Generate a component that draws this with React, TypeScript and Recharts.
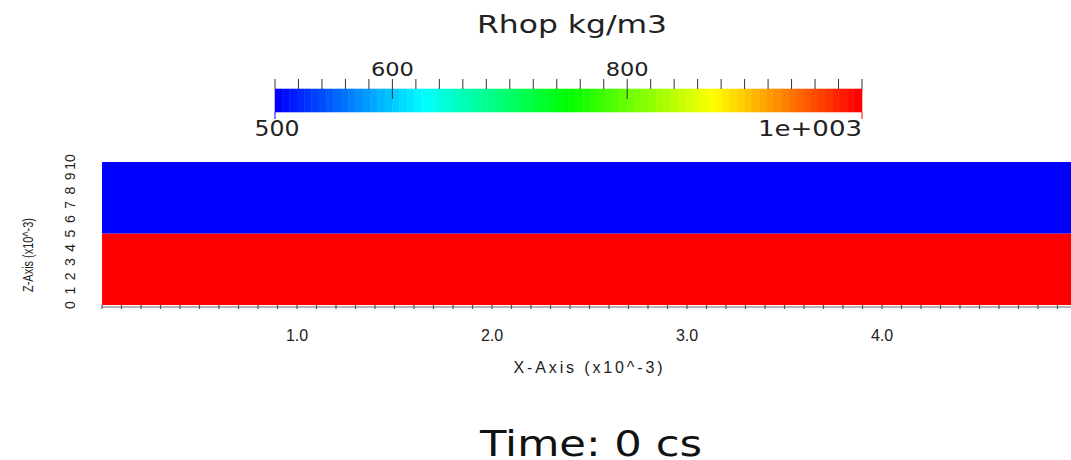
import React from 'react';
import { ComposedChart, XAxis, YAxis, Area, ReferenceArea, Label } from 'recharts';

// Density field: two horizontal layers (z in 1e-3 m, rho in kg/m3)
const LAYER_Z_FROM = [0, 5];
const LAYER_Z_TO = [5, 10];
const LAYER_RHO = [1000, 500];

// Domain of the slice (x10^-3)
const X_DOMAIN: [number, number] = [0, 5];
const Z_DOMAIN: [number, number] = [0, 10];
const X_LABELED = [1, 2, 3, 4];
const X_MINOR_STEP = 0.1;
const Z_TICKS = [0, 1, 2, 3, 4, 5, 6, 7, 8, 9, 10];

// Colour legend
const RHO_RANGE: [number, number] = [500, 1000];
const RHO_TICKS = [500, 520, 540, 560, 580, 600, 620, 640, 660, 680, 700, 720, 740, 760, 780, 800, 820, 840, 860, 880, 900, 920, 940, 960, 980, 1000];
const RHO_LABELED = [600, 800];
const RHO_END_LABELS = [500, 1000];
const COLOR_STEPS = 80;

const X_TICKS = Array.from(
  { length: Math.round((X_DOMAIN[1] - X_DOMAIN[0]) / X_MINOR_STEP) + 1 },
  (_, i) => +(X_DOMAIN[0] + i * X_MINOR_STEP).toFixed(1)
);

// Rainbow lookup table: blue -> cyan -> green -> yellow -> red
function rhoColor(v: number): string {
  const t = Math.min(1, Math.max(0, (v - RHO_RANGE[0]) / (RHO_RANGE[1] - RHO_RANGE[0])));
  const hue = 240 * (1 - t);
  return `hsl(${hue.toFixed(2)}, 100%, 50%)`;
}

const BAND_WIDTH = (RHO_RANGE[1] - RHO_RANGE[0]) / COLOR_STEPS;
const BANDS = Array.from({ length: COLOR_STEPS }, (_, i) => ({
  from: RHO_RANGE[0] + i * BAND_WIDTH,
  to: RHO_RANGE[0] + (i + 1) * BAND_WIDTH,
  color: rhoColor(RHO_RANGE[0] + (i / (COLOR_STEPS - 1)) * (RHO_RANGE[1] - RHO_RANGE[0])),
}));

// One row per domain edge; each layer is stacked by its thickness
const SLICE_ROWS = X_DOMAIN.map((x) => {
  const row: Record<string, number> = { x };
  LAYER_RHO.forEach((_, i) => {
    row[`layer${i}`] = LAYER_Z_TO[i] - LAYER_Z_FROM[i];
  });
  return row;
});

const SANS = '"Liberation Sans", Arial, sans-serif';
const WIDE = '"DejaVu Sans", sans-serif';

function fmtRho(v: number): string {
  if (v >= 1000) {
    const e = Math.floor(Math.log10(v));
    const m = v / Math.pow(10, e);
    return `${m}e+${String(e).padStart(3, '0')}`;
  }
  return String(v);
}

const XTick = (props: any) => {
  const { x, y, payload } = props;
  const v = payload.value as number;
  const labeled = X_LABELED.some((m) => Math.abs(m - v) < 1e-6);
  return (
    <g>
      <line x1={x} x2={x} y1={y} y2={y + 4} stroke="#555" strokeWidth={1.2} />
      {labeled && (
        <text x={x} y={y + 36} textAnchor="middle" fontSize={16} fill="#222" fontFamily={SANS}>
          {v.toFixed(1)}
        </text>
      )}
    </g>
  );
};

const ZTick = (props: any) => {
  const { x, y, payload } = props;
  const tx = x - 32;
  return (
    <text
      x={tx}
      y={y}
      transform={`rotate(-90 ${tx} ${y})`}
      textAnchor="middle"
      dominantBaseline="central"
      fontSize={14}
      fill="#222"
      fontFamily={SANS}
    >
      {payload.value}
    </text>
  );
};

const RhoTopTick = (props: any) => {
  const { x, y, payload } = props;
  const v = payload.value as number;
  const labeled = RHO_LABELED.includes(v);
  return (
    <g>
      <line x1={x} x2={x} y1={y - 10} y2={labeled ? y + 10 : y} stroke="#333" strokeWidth={1} />
      {labeled && (
        <text x={x} y={y - 13} textAnchor="middle" fontSize={20} fill="#222" fontFamily={WIDE} textLength={43} lengthAdjust="spacingAndGlyphs">
          {fmtRho(v)}
        </text>
      )}
    </g>
  );
};

const RhoBottomTick = (props: any) => {
  const { x, y, payload } = props;
  const v = payload.value as number;
  const isMax = v >= RHO_RANGE[1];
  const label = fmtRho(v);
  return (
    <g>
      <line x1={x} x2={x} y1={y} y2={y + 7} stroke={rhoColor(v)} strokeWidth={1} />
      <text
        x={isMax ? x : x + 2}
        y={y + 24}
        textAnchor={isMax ? 'end' : 'middle'}
        fontSize={22}
        fill="#222"
        fontFamily={WIDE}
        textLength={isMax ? 104 : 45}
        lengthAdjust="spacingAndGlyphs"
      >
        {label}
      </text>
    </g>
  );
};

export default function App() {
  return (
    <div style={{ position: 'absolute', left: 0, top: 0, width: 1071, height: 460, overflow: 'hidden', background: '#fff' }}>
      {/* colour legend */}
      <div style={{ position: 'absolute', left: 0, top: 0 }}>
        <ComposedChart width={1071} height={145} data={BANDS} margin={{ top: 59, right: 209, left: 275, bottom: 3 }}>
          <YAxis yAxisId="cb" type="number" domain={[0, 1]} hide allowDataOverflow />
          <XAxis
            xAxisId="top"
            dataKey="from"
            orientation="top"
            type="number"
            domain={RHO_RANGE}
            ticks={RHO_TICKS}
            interval={0}
            height={30}
            tickSize={0}
            tickMargin={0}
            axisLine={false}
            tickLine={false}
            allowDataOverflow
            tick={RhoTopTick}
          >
            <Label
              content={(p: any) => {
                const vb = p.viewBox || { x: 275, y: 59 };
                return (
                  <text x={vb.x + 297} y={vb.y - 26} textAnchor="middle" fontSize={25} fill="#222" fontFamily={WIDE} textLength={190} lengthAdjust="spacingAndGlyphs">
                    Rhop kg/m3
                  </text>
                );
              }}
            />
          </XAxis>
          <XAxis
            xAxisId="bot"
            dataKey="from"
            orientation="bottom"
            type="number"
            domain={RHO_RANGE}
            ticks={RHO_END_LABELS}
            interval={0}
            height={30}
            tickSize={0}
            tickMargin={0}
            axisLine={false}
            tickLine={false}
            allowDataOverflow
            tick={RhoBottomTick}
          />
          {BANDS.map((b, i) => (
            <ReferenceArea
              key={i}
              xAxisId="top"
              yAxisId="cb"
              x1={b.from}
              x2={b.to}
              y1={0}
              y2={1}
              fill={b.color}
              fillOpacity={1}
              stroke={b.color}
              strokeWidth={0.6}
              ifOverflow="visible"
            />
          ))}
        </ComposedChart>
      </div>

      {/* density slice */}
      <div style={{ position: 'absolute', left: 0, top: 0 }}>
        <ComposedChart width={1100} height={460} data={SLICE_ROWS} margin={{ top: 162, right: 23, left: 0, bottom: 75 }}>
          {LAYER_RHO.map((rho, i) => (
            <Area
              key={i}
              type="linear"
              dataKey={`layer${i}`}
              stackId="slice"
              fill={rhoColor(rho)}
              fillOpacity={1}
              stroke="none"
              isAnimationActive={false}
              dot={false}
              activeDot={false}
            />
          ))}
          <XAxis
            dataKey="x"
            type="number"
            domain={X_DOMAIN}
            ticks={X_TICKS}
            interval={0}
            height={80}
            tickSize={0}
            tickMargin={0}
            tickLine={false}
            axisLine={{ stroke: '#b5b5b5', strokeWidth: 2, transform: 'translate(0,2)' }}
            allowDataOverflow
            tick={XTick}
          >
            <Label
              content={(p: any) => {
                const vb = p.viewBox || { x: 102, y: 305, width: 975 };
                return (
                  <g>
                    <text x={vb.x + 486} y={vb.y + 68} textAnchor="middle" fontSize={16} fill="#222" fontFamily={SANS} textLength={149} lengthAdjust="spacing">
                      X-Axis (x10^-3)
                    </text>
                    <text x={vb.x + 489} y={vb.y + 151} textAnchor="middle" fontSize={36} fill="#111" fontFamily={WIDE} textLength={222} lengthAdjust="spacingAndGlyphs">
                      Time: 0 cs
                    </text>
                  </g>
                );
              }}
            />
          </XAxis>
          <YAxis
            type="number"
            domain={Z_DOMAIN}
            ticks={Z_TICKS}
            interval={0}
            width={102}
            tickSize={0}
            tickMargin={0}
            tickLine={false}
            axisLine={false}
            allowDataOverflow
            tick={ZTick}
          >
            <Label
              content={(p: any) => {
                const vb = p.viewBox || { x: 0, y: 162 };
                const tx = vb.x + 27;
                const ty = vb.y + 93;
                return (
                  <text x={tx} y={ty} transform={`rotate(-90 ${tx} ${ty})`} textAnchor="middle" dominantBaseline="central" fontSize={15} fill="#222" fontFamily={SANS} textLength={74} lengthAdjust="spacingAndGlyphs">
                    Z-Axis (x10^-3)
                  </text>
                );
              }}
            />
          </YAxis>
        </ComposedChart>
      </div>
    </div>
  );
}
